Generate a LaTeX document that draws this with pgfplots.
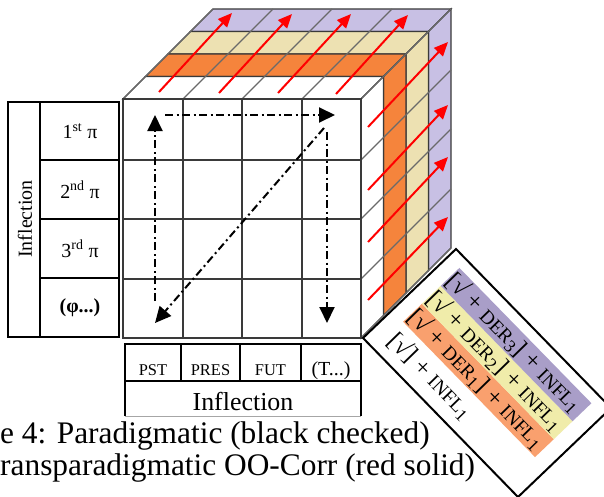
\documentclass[border=0pt]{standalone}
\usepackage{fontspec}
\setmainfont{Liberation Serif}
\usepackage{pgfplots}
\pgfplotsset{compat=1.18}
\usetikzlibrary{arrows.meta}
\definecolor{cor}{HTML}{F5843C}
\definecolor{cye}{HTML}{EDE1B2}
\definecolor{cpu}{HTML}{C8C0E4}
\definecolor{lor}{HTML}{F9A06E}
\definecolor{lye}{HTML}{F0ECAA}
\definecolor{lpu}{HTML}{A99EC8}
\definecolor{edge}{HTML}{3A3A3A}
\definecolor{slant}{HTML}{6A6A6A}
\newcommand{\fs}[1]{\fontsize{#1}{#1}\selectfont}
\newcommand{\smc}[1]{{\fontsize{19.5}{19.5}\selectfont #1}}
\begin{document}
\begin{tikzpicture}
\useasboundingbox (0,0) rectangle (604bp,497bp);
\begin{axis}[at={(0,0)}, anchor=south west, scale only axis, width=604bp, height=497bp,
  xmin=0, xmax=604, ymin=0, ymax=497, y dir=reverse, axis lines=none, clip=false, no markers]
% ---- cube: slabs (top faces and right faces), back to front
\addplot[fill=cpu, draw=edge, line width=1.2bp] coordinates {(190.5,31.5) (428.5,31.5) (451,9) (213,9)} -- cycle;
\addplot[fill=cpu, draw=edge, line width=1.2bp] coordinates {(428.5,31.5) (451,9) (451,248) (428.5,270.5)} -- cycle;
\addplot[fill=cye, draw=edge, line width=1.2bp] coordinates {(168,54) (406,54) (428.5,31.5) (190.5,31.5)} -- cycle;
\addplot[fill=cye, draw=edge, line width=1.2bp] coordinates {(406,54) (428.5,31.5) (428.5,270.5) (406,293)} -- cycle;
\addplot[fill=cor, draw=edge, line width=1.2bp] coordinates {(145.5,76.5) (383.5,76.5) (406,54) (168,54)} -- cycle;
\addplot[fill=cor, draw=edge, line width=1.2bp] coordinates {(383.5,76.5) (406,54) (406,293) (383.5,315.5)} -- cycle;
\addplot[fill=white, draw=edge, line width=1.2bp] coordinates {(123,99) (361,99) (383.5,76.5) (145.5,76.5)} -- cycle;
\addplot[fill=white, draw=edge, line width=1.2bp] coordinates {(361,99) (383.5,76.5) (383.5,315.5) (361,338)} -- cycle;
% slanted grid lines on top and right faces
\addplot[slant, line width=1.2bp] coordinates {(123,99) (213,9)};
\addplot[slant, line width=1.2bp] coordinates {(183,99) (273,9)};
\addplot[slant, line width=1.2bp] coordinates {(242,99) (332,9)};
\addplot[slant, line width=1.2bp] coordinates {(302,99) (392,9)};
\addplot[slant, line width=1.2bp] coordinates {(361,99) (451,9)};
\addplot[slant, line width=1.2bp] coordinates {(361,160) (451,70)};
\addplot[slant, line width=1.2bp] coordinates {(361,219) (451,129)};
\addplot[slant, line width=1.2bp] coordinates {(361,279) (451,189)};
\addplot[slant, line width=1.2bp] coordinates {(361,338) (451,248)};
% front face
\addplot[fill=white, draw=edge, line width=1.5bp] coordinates {(123,99) (361,99) (361,338) (123,338)} -- cycle;
\addplot[edge, line width=1.5bp] coordinates {(183,99) (183,338)};
\addplot[edge, line width=1.5bp] coordinates {(242,99) (242,338)};
\addplot[edge, line width=1.5bp] coordinates {(302,99) (302,338)};
\addplot[edge, line width=1.5bp] coordinates {(123,160) (361,160)};
\addplot[edge, line width=1.5bp] coordinates {(123,219) (361,219)};
\addplot[edge, line width=1.5bp] coordinates {(123,279) (361,279)};
% red arrows (transparadigmatic)
\addplot[red, line width=2bp, -{Triangle[length=14bp,width=12bp]}] coordinates {(159,92) (232,13)};
\addplot[red, line width=2bp, -{Triangle[length=14bp,width=12bp]}] coordinates {(219,93) (292,14)};
\addplot[red, line width=2bp, -{Triangle[length=14bp,width=12bp]}] coordinates {(278,93) (351,14)};
\addplot[red, line width=2bp, -{Triangle[length=14bp,width=12bp]}] coordinates {(336,94) (408,15)};
\addplot[red, line width=2bp, -{Triangle[length=14bp,width=12bp]}] coordinates {(368,127) (448,42)};
\addplot[red, line width=2bp, -{Triangle[length=14bp,width=12bp]}] coordinates {(368,190) (448,105)};
\addplot[red, line width=2bp, -{Triangle[length=14bp,width=12bp]}] coordinates {(368,242) (448,157)};
\addplot[red, line width=2bp, -{Triangle[length=14bp,width=12bp]}] coordinates {(368,300) (448,217)};
% dash-dot paradigmatic arrows
\addplot[black, line width=2bp, dash pattern=on 8bp off 3.5bp on 2bp off 3.5bp, -{Triangle[length=16bp,width=15bp]}] coordinates {(165,115) (335,115)};
\addplot[black, line width=2bp, dash pattern=on 8bp off 3.5bp on 2bp off 3.5bp, -{Triangle[length=16bp,width=15bp]}] coordinates {(155,301) (155,115)};
\addplot[black, line width=2bp, dash pattern=on 8bp off 3.5bp on 2bp off 3.5bp, -{Triangle[length=16bp,width=15bp]}] coordinates {(327,132) (327,323)};
\addplot[black, line width=2bp, dash pattern=on 8bp off 3.5bp on 2bp off 3.5bp, -{Triangle[length=16bp,width=15bp]}] coordinates {(324,128) (155,323)};
% left table
\addplot[black, line width=2bp] coordinates {(8,102) (119,102) (119,337) (8,337)} -- cycle;
\addplot[black, line width=2bp] coordinates {(40,102) (40,337)};
\addplot[black, line width=2bp] coordinates {(40,160) (119,160)};
\addplot[black, line width=2bp] coordinates {(40,219) (119,219)};
\addplot[black, line width=2bp] coordinates {(40,278) (119,278)};
\node[rotate=90, inner sep=0pt, font=\fs{20}] at (axis cs:25,219) {Inflection};
\node[inner sep=0pt, font=\fs{20}] at (axis cs:80,131) {1\textsuperscript{st} π};
\node[inner sep=0pt, font=\fs{20}] at (axis cs:80,190) {2\textsuperscript{nd} π};
\node[inner sep=0pt, font=\fs{20}] at (axis cs:80,249) {3\textsuperscript{rd} π};
\node[inner sep=0pt, font=\fs{20}] at (axis cs:80,308) {\textbf{(φ...)}};
% bottom table
\addplot[black, line width=2bp] coordinates {(125,416) (125,344) (361,344) (361,416)};
\addplot[black!35, line width=1bp] coordinates {(125,416) (361,416)};
\addplot[black, line width=2bp] coordinates {(125,381) (361,381)};
\addplot[black, line width=2bp] coordinates {(181,344) (181,381)};
\addplot[black, line width=2bp] coordinates {(240,344) (240,381)};
\addplot[black, line width=2bp] coordinates {(301,344) (301,381)};
\node[anchor=base, inner sep=0pt, font=\fs{16.5}] at (axis cs:153,375) {PST};
\node[anchor=base, inner sep=0pt, font=\fs{16.5}] at (axis cs:210.5,375) {PRES};
\node[anchor=base, inner sep=0pt, font=\fs{16.5}] at (axis cs:270.5,375) {FUT};
\node[anchor=base, inner sep=0pt, font=\fs{20}] at (axis cs:331,375) {(T...)};
\node[anchor=base, inner sep=0pt, font=\fs{26}] at (axis cs:243,410) {Inflection};
% caption
\node[anchor=base west, inner sep=0pt, font=\fs{31.5}] at (axis cs:0,443) {e 4: Paradigmatic (black checked)};
\node[anchor=base west, inner sep=0pt, font=\fs{31.5}] at (axis cs:0,475) {ransparadigmatic OO-Corr (red solid)};
% rotated legend box
\addplot[fill=white, draw=black, line width=2bp] coordinates {(363,338) (456,249) (611,408) (518,497)} -- cycle;
\addplot[fill=lor, draw=none] coordinates {(403.1,321.8) (535.0,457.1) (553.8,439.2) (421.9,303.8)} -- cycle;
\addplot[fill=lye, draw=none] coordinates {(421.9,303.8) (553.8,439.2) (572.6,421.2) (440.7,285.8)} -- cycle;
\addplot[fill=lpu, draw=none] coordinates {(440.7,285.8) (572.6,421.2) (591.4,403.2) (459.4,267.9)} -- cycle;
\node[rotate=-45.7, inner sep=0pt, font=\fs{25}] at (axis cs:514.3,342.7) {[√ + \smc{DER}\textsubscript{3}] + \smc{INFL}\textsubscript{1}};
\node[rotate=-45.7, inner sep=0pt, font=\fs{25}] at (axis cs:495.5,360.7) {[√ + \smc{DER}\textsubscript{2}] + \smc{INFL}\textsubscript{1}};
\node[rotate=-45.7, inner sep=0pt, font=\fs{25}] at (axis cs:476.7,378.7) {[√ + \smc{DER}\textsubscript{1}] + \smc{INFL}\textsubscript{1}};
\node[rotate=-45.7, inner sep=0pt, font=\fs{25}] at (axis cs:430.7,375.7) {[√] + \smc{INFL}\textsubscript{1}};
\end{axis}
\end{tikzpicture}
\end{document}
